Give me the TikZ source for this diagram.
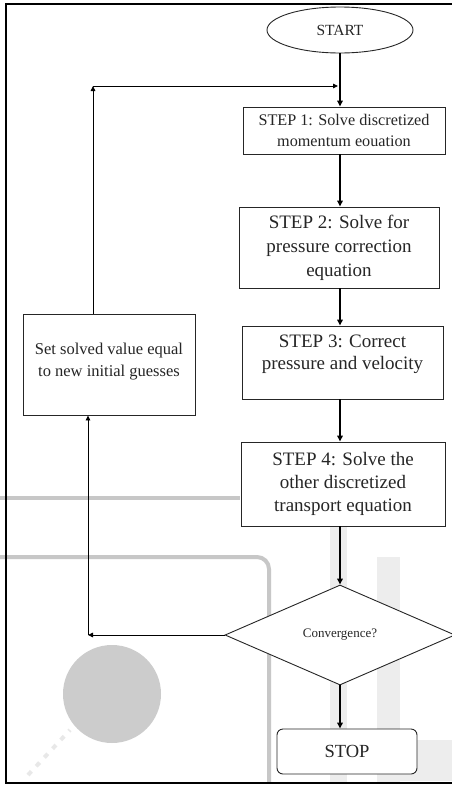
\documentclass[tikz,border=0pt]{standalone}
\usepackage{fontspec}
\setmainfont{Liberation Serif}
\usetikzlibrary{shapes.geometric,arrows.meta}
\begin{document}
\begin{tikzpicture}[x=1pt,y=-1pt,
  box/.style={draw=black!85, line width=0.9pt, fill=white, align=center, inner sep=0pt, text=black!85},
  txt/.style={align=center, inner sep=0pt, text=black!85},
  flow/.style={line width=1.8pt, -{Triangle[length=6pt,width=5.5pt]}},
  back/.style={line width=0.9pt, -{Triangle[length=5pt,width=4.5pt]}},
  wmline/.style={draw=black!22, line width=4pt},
  wmband/.style={fill=black!7}
]
\useasboundingbox (0,0) rectangle (452,785);
\fill[white] (0,0) rectangle (452,785);

% faint watermark in the background
\fill[wmband] (330,505) rectangle (347,783);
\fill[wmband] (377,557) rectangle (400,783);
\fill[wmband] (400,740) rectangle (452,781);
\draw[wmline] (0,498) -- (240,498);
\draw[wmline, rounded corners=12pt] (0,557) -- (269,557) -- (269,783);
\fill[black!20] (112,694) circle (49);
\draw[black!9, line width=4pt, dash pattern=on 5pt off 7pt] (28,775) -- (70,730);

% frame
\draw[line width=2pt] (452,4) -- (6,4) -- (6,783) -- (452,783);

% nodes
\node[ellipse, draw=black!85, line width=0.9pt, fill=white, minimum width=146pt, minimum height=46pt, inner sep=0pt, text=black!85,
  font=\fontsize{15.5}{18}\selectfont] (start) at (340,30) {START};
\node[box, minimum width=202pt, minimum height=47pt, font=\fontsize{16.2}{21}\selectfont] (s1) at (344,130.5)
  {STEP 1: Solve discretized\\momentum eouation};
\node[box, minimum width=200pt, minimum height=81pt, font=\fontsize{19}{24}\selectfont] (s2) at (339,247.5)
  {STEP 2: Solve for\\pressure correction\\equation};
\node[box, minimum width=201pt, minimum height=73pt] (s3) at (342.5,362.5) {};
\node[txt, font=\fontsize{19}{22.5}\selectfont] (s3t) at ([yshift=8pt]s3.center)
  {STEP 3: Correct\\pressure and velocity};
\node[box, minimum width=204pt, minimum height=84pt, font=\fontsize{19}{23}\selectfont] (s4) at (343,484)
  {STEP 4: Solve the\\other discretized\\transport equation};
\node[diamond, draw=black!85, line width=0.9pt, fill=white, minimum width=230pt, minimum height=100pt, inner sep=0pt, text=black!85,
  font=\fontsize{13}{15}\selectfont] (dec) at (340,635) {Convergence?};
\node[box, rounded corners=6pt, minimum width=140pt, minimum height=45pt, font=\fontsize{18.5}{22}\selectfont] (stop) at (347,751.5) {STOP};
\node[box, minimum width=172pt, minimum height=101pt] (set) at (109,364.5) {};
\node[txt, font=\fontsize{16.5}{21.5}\selectfont] (sett) at ([yshift=3pt]set.center)
  {Set solved value equal\\to new initial guesses};

% coordinates for the loop
\coordinate (c1) at (93,86);
\coordinate (j1) at (339,86);
\coordinate (c2) at (88,635);

% main flow
\draw[flow] (start.south) -- (start.south |- s1.north);
\draw[flow] (s1.south -| start.south) -- (s2.north -| start.south);
\draw[flow] (s2.south -| start.south) -- (s3.north -| start.south);
\draw[flow] (s3.south -| start.south) -- (s4.north -| start.south);
\draw[flow] (s4.south -| start.south) -- (dec.north);
\draw[flow] (dec.south) -- (dec.south |- stop.north);

% loop back
\draw[back] (dec.west) -- (c2);
\draw[back] (c2) -- (set.south -| c2);
\draw[back] (set.north -| c1) -- (c1);
\draw[back, shorten >=1pt] (c1) -- (j1);
\end{tikzpicture}
\end{document}
